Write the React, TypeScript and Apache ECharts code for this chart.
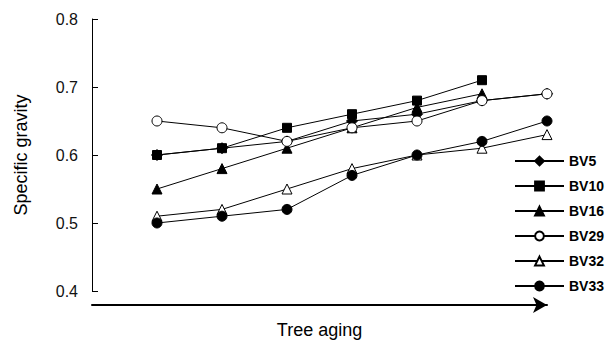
import React, { useEffect, useRef } from "react";
import * as echarts from "echarts";

const xPositions = [1, 2, 3, 4, 5, 6, 7];
const seriesNames = ["BV5", "BV10", "BV16", "BV29", "BV32", "BV33"];
const bv5 = [0.6, 0.61, 0.62, 0.65, 0.66, 0.68, 0.69];
const bv10 = [0.6, 0.61, 0.64, 0.66, 0.68, 0.71, null];
const bv16 = [0.55, 0.58, 0.61, 0.64, 0.67, 0.69, null];
const bv29 = [0.65, 0.64, 0.62, 0.64, 0.65, 0.68, 0.69];
const bv32 = [0.51, 0.52, 0.55, 0.58, 0.6, 0.61, 0.63];
const bv33 = [0.5, 0.51, 0.52, 0.57, 0.6, 0.62, 0.65];
const yTicks = [0.4, 0.5, 0.6, 0.7, 0.8];

const FONT = "Liberation Sans, Arial, sans-serif";

export default function App() {
  const ref = useRef<HTMLDivElement>(null);
  useEffect(() => {
    if (!ref.current) return;
    const chart = echarts.init(ref.current, undefined, { renderer: "svg" });
    const values = [bv5, bv10, bv16, bv29, bv32, bv33];
    const symbols = ["diamond", "rect", "triangle", "circle", "triangle", "circle"];
    const filled = [true, true, true, false, false, true];
    const sizes = [11, 9, 10, 10, 10, 10];
    const series = seriesNames.map((name, i) => ({
      name,
      type: "line",
      data: xPositions.map((x, j) => (values[i][j] == null ? null : [x, values[i][j]])),
      symbol: symbols[i],
      symbolSize: sizes[i],
      showSymbol: true,
      lineStyle: { color: "#000", width: 1 },
      itemStyle: {
        color: filled[i] ? "#000" : "#fff",
        borderColor: "#000",
        borderWidth: 1,
        opacity: 1,
      },
      emphasis: { disabled: true },
      z: 2 + i,
    }));
    chart.setOption({
      animation: false,
      backgroundColor: "#fff",
      textStyle: { fontFamily: FONT },
      grid: { left: 92, right: 64, top: 19, bottom: 53, containLabel: false },
      legend: {
        orient: "vertical",
        left: 509,
        top: 149,
        itemWidth: 49,
        itemHeight: 11,
        itemGap: 11,
        data: seriesNames,
        textStyle: { fontFamily: FONT, fontSize: 14, fontWeight: "bold", color: "#000" },
        lineStyle: { width: 2 },
        selectedMode: false,
      },
      xAxis: {
        type: "value",
        min: 0,
        max: 7,
        offset: 14,
        axisLine: {
          show: true,
          lineStyle: { color: "#000", width: 2 },
          symbol: ["none", "arrow"],
          symbolSize: [12, 14],
        },
        axisTick: { show: false },
        axisLabel: { show: false },
        splitLine: { show: false },
        name: "Tree aging",
        nameLocation: "middle",
        nameGap: 16,
        nameTextStyle: { fontFamily: FONT, fontSize: 18, color: "#000" },
      },
      yAxis: {
        type: "value",
        min: yTicks[0],
        max: yTicks[yTicks.length - 1],
        interval: 0.1,
        axisLine: { show: true, lineStyle: { color: "#000", width: 1 } },
        axisTick: { show: true, inside: true, length: 6, lineStyle: { color: "#000" } },
        axisLabel: {
          margin: 14,
          fontFamily: FONT,
          fontSize: 16,
          color: "#111",
          formatter: (v: number) => v.toFixed(1),
        },
        splitLine: { show: false },
        name: "Specific gravity",
        nameLocation: "middle",
        nameGap: 62,
        nameTextStyle: { fontFamily: FONT, fontSize: 18, color: "#000" },
      },
      series,
    });
    return () => chart.dispose();
  }, []);
  return (
    <div
      ref={ref}
      style={{ position: "fixed", left: 0, top: 0, width: 611, height: 344 }}
    />
  );
}
